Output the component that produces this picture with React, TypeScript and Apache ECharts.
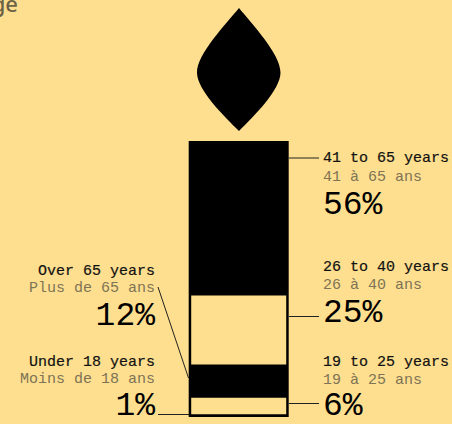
import React, { useEffect, useRef } from "react";
import * as echarts from "echarts";

const BG = "#FEDF8F";
const GREY = "#7D7355";
const MONO = "'Liberation Mono', monospace";

// Stack order runs from the top of the candle to its foot.
const englishLabels = ["41 to 65 years", "26 to 40 years", "Over 65 years", "19 to 25 years", "Under 18 years"];
const frenchLabels = ["41 à 65 ans", "26 à 40 ans", "Plus de 65 ans", "19 à 25 ans", "Moins de 18 ans"];
const shares = [56, 25, 12, 6, 1];
const isHollow = [false, true, false, true, false];

const FLAME = "M239 8 C226 24 197 54 197 72.5 C197 90 224 116 239 131 C254 116 280.5 90 280.5 72.5 C280.5 54 252 24 239 8 Z";
echarts.graphic.registerShape("flame", echarts.graphic.extendPath(FLAME, {}) as any);

// x, alignment and the three text centre lines of each block of labels.
const labelBlocks = [
  { x: 323, align: "left", ys: [158, 177, 205] },
  { x: 323, align: "left", ys: [267, 285, 313] },
  { x: 155, align: "right", ys: [271, 288, 316] },
  { x: 323, align: "left", ys: [362, 380, 406] },
  { x: 155, align: "right", ys: [362, 379, 406] },
];
const leaders = [
  [289, 158, 319, 158],
  [289, 316.5, 319, 316.5],
  [158, 287, 188.5, 378],
  [289, 403.5, 319, 403.5],
  [158, 414.5, 189, 414.5],
];

export default function App() {
  const ref = useRef<HTMLDivElement>(null);
  useEffect(() => {
    document.body.style.margin = "0";
    const chart = echarts.init(ref.current!, undefined, { renderer: "svg" });
    const texts: any[] = [];
    labelBlocks.forEach((b, i) => {
      const rows = [
        { t: englishLabels[i], fill: "#111", font: `400 15px ${MONO}`, sw: 0.2 },
        { t: frenchLabels[i], fill: GREY, font: `400 15px ${MONO}`, sw: 0 },
        { t: `${shares[i]}%`, fill: "#000", font: `400 33px ${MONO}`, sw: 0 },
      ];
      rows.forEach((r, j) =>
        texts.push({
          type: "text",
          x: b.x,
          y: b.ys[j],
          style: {
            text: r.t,
            fill: r.fill,
            font: r.font,
            textAlign: b.align,
            textVerticalAlign: "middle",
            stroke: r.sw ? r.fill : "transparent",
            lineWidth: r.sw,
          },
        })
      );
    });
    chart.setOption({
      animation: false,
      backgroundColor: BG,
      grid: { left: 188.7, width: 100, top: 141, height: 276 },
      xAxis: [
        { type: "category", data: ["share"], show: false },
        { type: "category", data: ["share"], show: false },
      ],
      yAxis: { type: "value", min: 0, max: 100, inverse: true, show: false },
      series: [
        {
          type: "bar",
          name: "outline",
          xAxisIndex: 0,
          data: [100],
          barWidth: 100,
          itemStyle: { color: "#000" },
        },
        ...shares.map((v, i) => ({
          type: "bar",
          name: englishLabels[i],
          xAxisIndex: 1,
          stack: "inner",
          data: [v],
          barWidth: 95,
          itemStyle: { color: isHollow[i] ? BG : "rgba(0,0,0,0)" },
        })),
      ],
      graphic: [
        { type: "flame", style: { fill: "#000" } },
        {
          type: "text",
          x: 18,
          y: 3,
          style: { text: "ge", fill: "#6B6247", font: "500 22px 'Noto Sans', sans-serif", textAlign: "right", textVerticalAlign: "middle" },
        },
        ...leaders.map(([x1, y1, x2, y2]) => ({
          type: "line",
          shape: { x1, y1, x2, y2 },
          style: { stroke: "#222", lineWidth: 1 },
        })),
        ...texts,
      ],
    });
    return () => chart.dispose();
  }, []);
  return <div ref={ref} style={{ width: 452, height: 424 }} />;
}
